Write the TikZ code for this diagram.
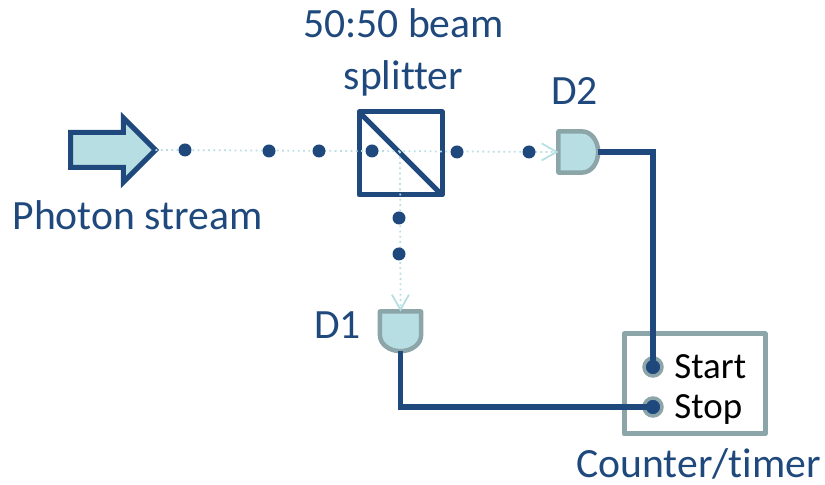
\documentclass[tikz,border=0pt]{standalone}
\usepackage{fontspec}
\setmainfont{Carlito}[Ligatures=NoCommon]
\usetikzlibrary{arrows.meta,shapes.arrows,shapes.gates.logic.US}
\definecolor{navy}{HTML}{1F497D}
\definecolor{pale}{HTML}{B7DEE2}
\definecolor{slate}{HTML}{8CA5A9}
\tikzset{
	photon/.style={circle,fill=navy,inner sep=0pt,outer sep=0pt,minimum size=0.26cm},
	beam/.style={pale,line width=1pt,dotted,-{Straight Barb[length=0.3cm,width=0.34cm,line width=1pt]}},
	wire/.style={navy,line width=0.11cm},
	detector/.style={and gate US,draw=slate,fill=pale,line width=0.09cm,line join=round,outer sep=0pt,inner sep=0pt,xscale=0.66,yscale=0.855,minimum width=0.79cm,minimum height=0.83cm},
	terminal/.style={circle,draw=slate,fill=navy,line width=0.07cm,inner sep=0pt,outer sep=0pt,minimum size=0.36cm},
	bluetext/.style={navy,inner sep=0pt,font=\fontsize{23.7}{29.5}\selectfont,align=center},
	portext/.style={black,inner sep=0pt,font=\fontsize{21}{24}\selectfont,anchor=west}
}
\begin{document}
\begin{tikzpicture}
	\useasboundingbox (0,0) rectangle (16.5,9.7);
	% optics
	\node[draw=navy,line width=0.1cm,line join=round,outer sep=0pt,minimum size=1.66cm] (cube) at (8.01,6.63) {};
	\draw[navy,line width=0.1cm] (cube.north west)--(cube.south east);
	\node[single arrow,draw=navy,fill=pale,line width=0.1cm,outer sep=0pt,inner sep=0.3cm,single arrow tip angle=90,single arrow head extend=0.29cm,minimum height=1.7cm,anchor=tip] (input) at (3.11,6.70) {};
	\node[detector] (D2) at (11.54,6.66) {};
	\node[rotate=-90,detector] (D1) at (8.01,3.10) {};
	\coordinate (split) at (8.00,6.67);
	\draw[beam] (input.tip)--(D2.west);
	\draw[beam] (split)--(D1.west);
	% photons
	\node[photon] (p1) at (3.70,6.70) {};
	\node[photon] (p2) at (5.38,6.68) {};
	\node[photon] (p3) at (6.38,6.68) {};
	\node[photon] (p4) at (7.44,6.68) {};
	\node[photon] (p5) at (9.14,6.66) {};
	\node[photon] (p6) at (10.58,6.66) {};
	\node[photon] (p7) at (7.98,5.34) {};
	\node[photon] (p8) at (7.98,4.62) {};
	% counter
	\node[draw=slate,line width=0.1cm,line join=round,outer sep=0pt,minimum width=2.82cm,minimum height=2cm] (counter) at (13.89,2.02) {};
	\node[terminal] (start) at (13.06,2.36) {};
	\node[terminal] (stop) at (13.06,1.56) {};
	\draw[wire] (D2.output)-|(start.center);
	\draw[wire] (D1.output)|-(stop.center);
	% labels
	\node[portext] (startlabel) at (13.48,2.36) {Start};
	\node[portext] (stoplabel) at (13.48,1.50) {Stop};
	\node[bluetext] (splitterlabel) at (8.07,8.65) {50:50 beam\\splitter};
	\node[bluetext] (inputlabel) at (2.75,5.39) {Photon stream};
	\node[bluetext] (D2label) at (11.49,7.89) {D2};
	\node[bluetext] (D1label) at (6.75,3.19) {D1};
	\node[bluetext] (counterlabel) at (13.97,0.43) {Counter/timer};
\end{tikzpicture}
\end{document}
